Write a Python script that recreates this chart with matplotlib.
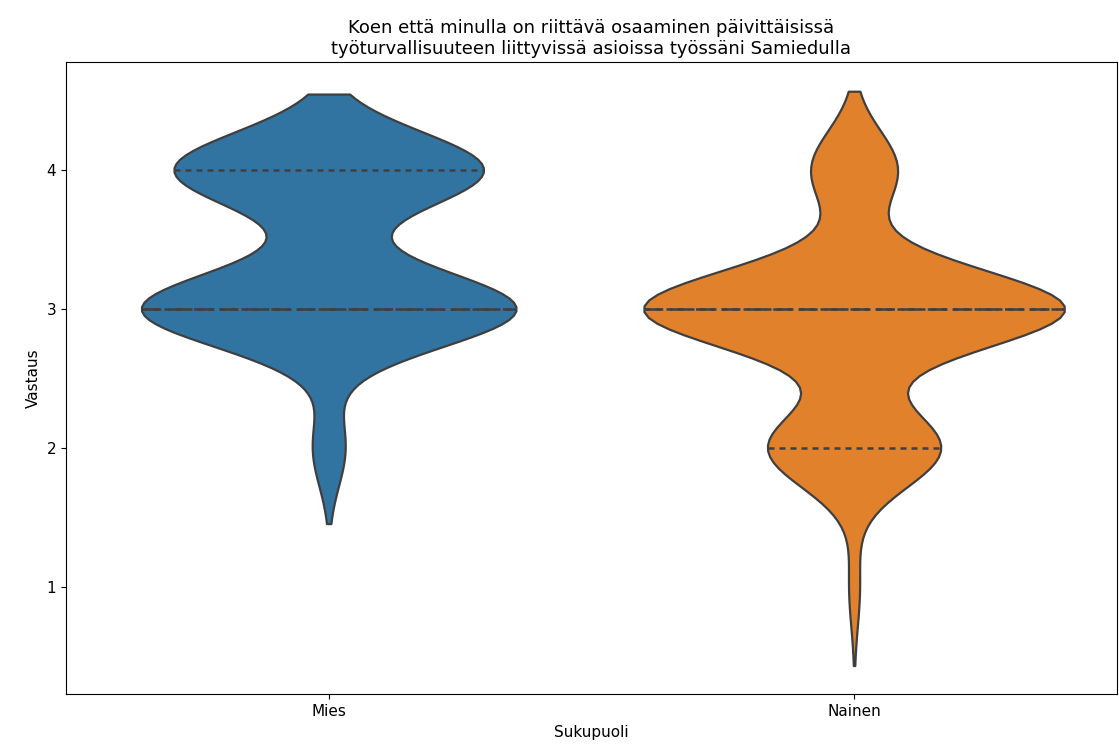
import numpy as np
import pandas as pd
import matplotlib
matplotlib.use('Agg')
import matplotlib.pyplot as plt
import seaborn as sns

# answers (1-5 scale) and how many gave each answer, per gender
answers = [1, 2, 3, 4]
mies_counts = [0, 2, 23, 19]
nainen_counts = [1, 16, 39, 8]
groups = ['Mies', 'Nainen']
colors = ['#3274a1', '#e1812c']

rows = []
for g, counts in zip(groups, [mies_counts, nainen_counts]):
    for a, c in zip(answers, counts):
        rows += [(g, a)] * c
df = pd.DataFrame(rows, columns=['Sukupuoli', 'Vastaus'])

fig = plt.figure(figsize=(11.19, 7.53), dpi=100)
ax = fig.add_axes([0.059, 0.078, 0.939, 0.839])

# no hue so that widths are scaled across both violins
sns.violinplot(data=df, x='Sukupuoli', y='Vastaus', inner='quart',
               color='#3274a1', saturation=1, linewidth=1.6,
               linecolor='#3f3f3f', ax=ax)

for coll, c in zip(ax.collections, colors):
    coll.set_facecolor(c)

# quartile lines: order per violin is q1, median, q3
for i, line in enumerate(ax.lines):
    line.set_color('#3f3f3f')
    line.set_linewidth(1.8)
    if i % 3 == 1:
        line.set_dashes((7.5, 2.8))
    else:
        line.set_dashes((2.4, 2.0))

ax.set_title('Koen että minulla on riittävä osaaminen päivittäisissä\n'
             'työturvallisuuteen liittyvissä asioissa työssäni Samiedulla', fontsize=13)
ax.set_xlabel('Sukupuoli', fontsize=11)
ax.set_ylabel('Vastaus', fontsize=11)
ax.tick_params(labelsize=11)

fig.savefig('out.png', dpi=100)
